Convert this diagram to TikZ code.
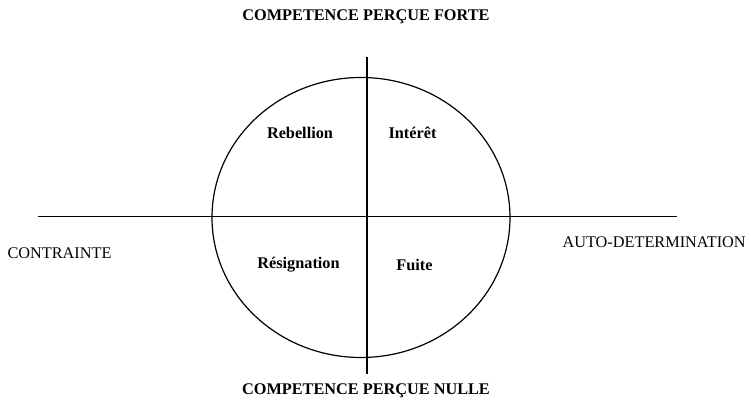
\documentclass[tikz,border=0pt]{standalone}
\usepackage{fontspec}
\setmainfont{Liberation Serif}
\usepackage{tikz}

\begin{document}
\begin{tikzpicture}[x=0.75pt, y=-0.75pt, line width=0.9pt,
    every node/.style={font=\fontsize{12.2}{14}\selectfont, inner sep=0pt},
    pole/.style={font=\fontsize{12.2}{14}\selectfont\bfseries},
    zone/.style={font=\fontsize{12.2}{14}\selectfont\bfseries}]
    \useasboundingbox (0,0) rectangle (751,402);
    % axes and the circle
    \coordinate (west) at (38,216.5);
    \coordinate (east) at (677,216.5);
    \coordinate (north) at (367,57);
    \coordinate (south) at (367,374);
    \draw (361,217.5) ellipse [x radius=149, y radius=140];
    \draw (west) -- (east);
    \draw (north) -- (south);
    % pole labels
    \node[pole] (forte) at (366,17) {COMPETENCE PERÇUE FORTE};
    \node[pole] (nulle) at (366,391) {COMPETENCE PERÇUE NULLE};
    \node[anchor=west] (contrainte) at (7,253) {CONTRAINTE};
    \node[anchor=west] (autodet) at (562,242) {AUTO-DETERMINATION};
    % the four quadrants
    \node[zone] (rebellion) at (300,133) {Rebellion};
    \node[zone] (interet) at (412.5,133) {Intérêt};
    \node[zone] (resignation) at (298.5,265) {Résignation};
    \node[zone] (fuite) at (414.5,265) {Fuite};
\end{tikzpicture}
\end{document}
